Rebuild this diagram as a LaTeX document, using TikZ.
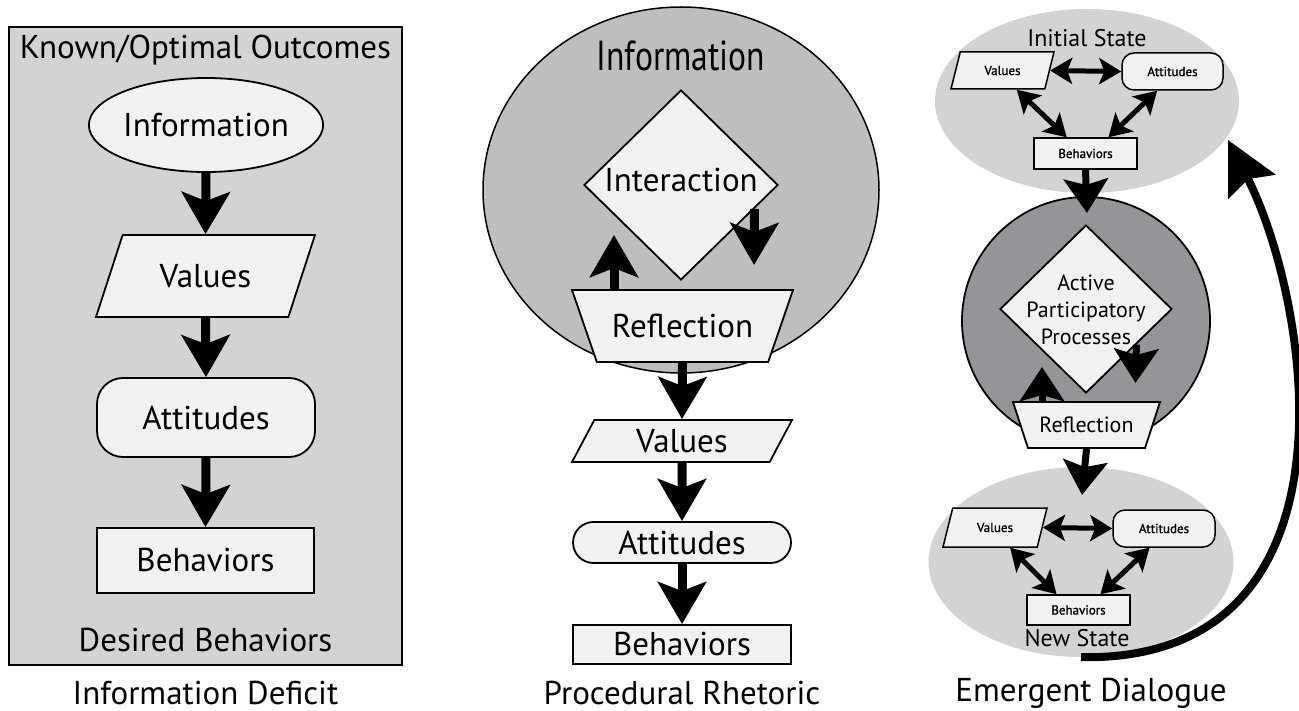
\documentclass[tikz,border=0pt]{standalone}
\usepackage{fontspec}
\setmainfont{PT Sans}
\newfontfamily\condfont[FakeStretch=0.8]{PT Sans}
\newfontfamily\semifont[FakeBold=1.2]{PT Sans}
\usetikzlibrary{shapes.geometric,shapes.misc,arrows.meta,calc}

\definecolor{boxgray}{RGB}{209,211,212}
\definecolor{infogray}{RGB}{188,190,192}
\definecolor{circgray}{RGB}{147,149,152}
\definecolor{shapefill}{RGB}{241,241,242}

\newcommand{\bigtxt}{\fontsize{33}{36}\selectfont}
\newcommand{\statetxt}{\fontsize{24}{28}\selectfont}
\newcommand{\midtxt}{\fontsize{22}{27}\selectfont}
\newcommand{\smalltxt}{\semifont\fontsize{13}{15}\selectfont}

\begin{document}
\begin{tikzpicture}[x=1pt, y=-1pt,
    shp/.style={draw, line width=1.8pt, fill=shapefill, inner sep=0pt},
    ell/.style={shp, ellipse},
    para/.style 2 args={shp, trapezium, trapezium stretches body,
      trapezium left angle=#1, trapezium right angle=#2, text depth=0pt},
    bigarr/.style={line width=9pt, -{Stealth[length=42pt, width=48pt, inset=9pt]}},
    midarr/.style={line width=7pt, -{Stealth[length=34pt, width=44pt, inset=6pt]}},
    dblarr/.style={line width=5pt, {Stealth[length=22pt, width=26pt, inset=5pt]}-{Stealth[length=22pt, width=26pt, inset=5pt]}},
    curvarr/.style={line width=8pt, -{Stealth[length=52pt, width=52pt, inset=8pt]}}]
      \useasboundingbox (0,0) rectangle (1299,711);

      % information deficit
      \node[draw, line width=1.8pt, fill=boxgray, minimum width=393, minimum height=638, inner sep=0pt] (box1) at (205.5,346) {};
      \node[font=\bigtxt] (known) at (205.5,50) {Known/Optimal Outcomes};
      \node[ell, minimum width=212, minimum height=94, font=\bigtxt] (info1) at (206,125) {Information};
      \node[para={72}{108}, text height=23pt, inner ysep=29.5pt, minimum width=219, font=\bigtxt] (val1) at (205.5,276) {Values};
      \node[shp, rounded corners=26, minimum width=218, minimum height=79, font=\bigtxt] (att1) at (206,417.5) {Attitudes};
      \node[shp, minimum width=217, minimum height=65, font=\bigtxt] (beh1) at (205.5,560.5) {Behaviors};
      \node[font=\bigtxt] (desired) at (205.5,640) {Desired Behaviors};
      \node[font=\bigtxt] (cap1) at (205.5,693) {Information Deficit};

      \draw[bigarr] (info1.south) -- (val1.north);
      \draw[bigarr] (val1.south) -- (att1.north);
      \draw[bigarr] (att1.south) -- (beh1.north);

      % procedural rhetoric
      \node[draw, line width=1.5pt, fill=infogray, ellipse, minimum width=396, minimum height=366, inner sep=0pt] (infoell) at (681,190) {};
      \node[font={\condfont\fontsize{42}{46}\selectfont}] (infotitle) at (681,56) {Information};
      \node[shp, diamond, minimum width=194, minimum height=190] (intr) at (681,185) {};
      \node[font=\bigtxt] (intrtxt) at (681,180) {Interaction};
      \node[para={109}{109}, text height=23pt, inner ysep=24.5pt, minimum width=221, font=\bigtxt] (refl) at (682.5,326) {Reflection};
      \node[para={62}{118}, text height=23pt, inner ysep=9.5pt, minimum width=220, font=\bigtxt] (val2) at (682,441) {Values};
      \node[shp, rounded rectangle, minimum width=218, minimum height=41, font=\bigtxt] (att2) at (682,542.5) {Attitudes};
      \node[shp, minimum width=218, minimum height=39, font=\bigtxt] (beh2) at (682,644.5) {Behaviors};
      \node[font=\bigtxt] (cap2) at (682,693) {Procedural Rhetoric};

      \coordinate (downtip) at (754,265);
      \coordinate (uptip) at (614,235);
      \draw[bigarr] ($(intr.east)!0.25!(intr.south)$) -- (downtip);
      \draw[bigarr] (uptip |- refl.north) -- (uptip);
      \draw[bigarr] (refl.south) -- (val2.north);
      \draw[bigarr] (val2.south) -- (att2.north);
      \draw[bigarr] (att2.south) -- (beh2.north);

      % emergent dialogue
      \node[fill=boxgray, ellipse, minimum width=304, minimum height=184, inner sep=0pt] (st1) at (1087,101) {};
      \node[fill=boxgray, ellipse, minimum width=305, minimum height=190, inner sep=0pt] (st2) at (1081,562) {};
      \node[draw, line width=1.8pt, fill=circgray, circle, minimum size=248, inner sep=0pt] (apc) at (1086,321) {};

      \node[font=\statetxt] (inistate) at (1087,38) {Initial State};
      \node[para={76}{104}, line width=1.5pt, text height=9pt, inner ysep=14pt, minimum width=103, font=\smalltxt] (v3a) at (1002.5,70.5) {Values};
      \node[shp, line width=1.5pt, rounded corners=12, minimum width=101, minimum height=37, font=\smalltxt] (a3a) at (1172.5,71.5) {Attitudes};
      \node[shp, line width=1.5pt, minimum width=103, minimum height=31, font=\smalltxt] (b3a) at (1085.5,153.5) {Behaviors};

      \node[shp, diamond, minimum width=172, minimum height=168] (apd) at (1086,309) {};
      \node[font=\midtxt, align=center] (apdtxt) at (1086,310) {Active\\Participatory\\Processes};
      \node[para={108}{108}, text height=15.5pt, inner ysep=15.25pt, minimum width=147, font=\midtxt] (r3) at (1086.5,425) {Reflection};

      \node[para={76}{104}, line width=1.5pt, text height=9pt, inner ysep=15pt, minimum width=104, font=\smalltxt] (v3b) at (995,527.5) {Values};
      \node[shp, line width=1.5pt, rounded corners=12, minimum width=102, minimum height=37, font=\smalltxt] (a3b) at (1164,528.5) {Attitudes};
      \node[shp, line width=1.5pt, minimum width=103, minimum height=30, font=\smalltxt] (b3b) at (1078.5,610) {Behaviors};
      \node[font=\statetxt] (newstate) at (1077,638) {New State};
      \node[font=\bigtxt] (cap3) at (1091,693) {Emergent Dialogue};

      \draw[dblarr] (v3a.east) -- (a3a.west);
      \draw[dblarr] ($(v3a.bottom left corner)!0.7!(v3a.bottom right corner)$) -- ($(b3a.north west)!0.32!(b3a.north east)$);
      \draw[dblarr] ($(a3a.south west)!0.35!(a3a.south east)$) -- ($(b3a.north west)!0.72!(b3a.north east)$);
      \draw[dblarr] (v3b.east) -- (a3b.west);
      \draw[dblarr] ($(v3b.bottom left corner)!0.71!(v3b.bottom right corner)$) -- ($(b3b.north west)!0.29!(b3b.north east)$);
      \draw[dblarr] ($(a3b.south west)!0.36!(a3b.south east)$) -- ($(b3b.north west)!0.71!(b3b.north east)$);

      \coordinate (apin) at (1087,213);
      \coordinate (aptip) at (1135.5,383);
      \coordinate (r3tip) at (1042,367);
      \coordinate (nsin) at (1082,495);
      \coordinate (loopend) at (1228,140);
      \draw[midarr] (b3a.south) -- (apin);
      \draw[midarr] ($(apd.east)!0.42!(apd.south)$) -- (aptip);
      \draw[midarr] (r3tip |- r3.north) -- (r3tip);
      \draw[midarr] (r3.south) -- (nsin);
      \draw[curvarr] (st2.south) .. controls (1370,662) and (1310,300) .. (loopend);
\end{tikzpicture}
\end{document}
